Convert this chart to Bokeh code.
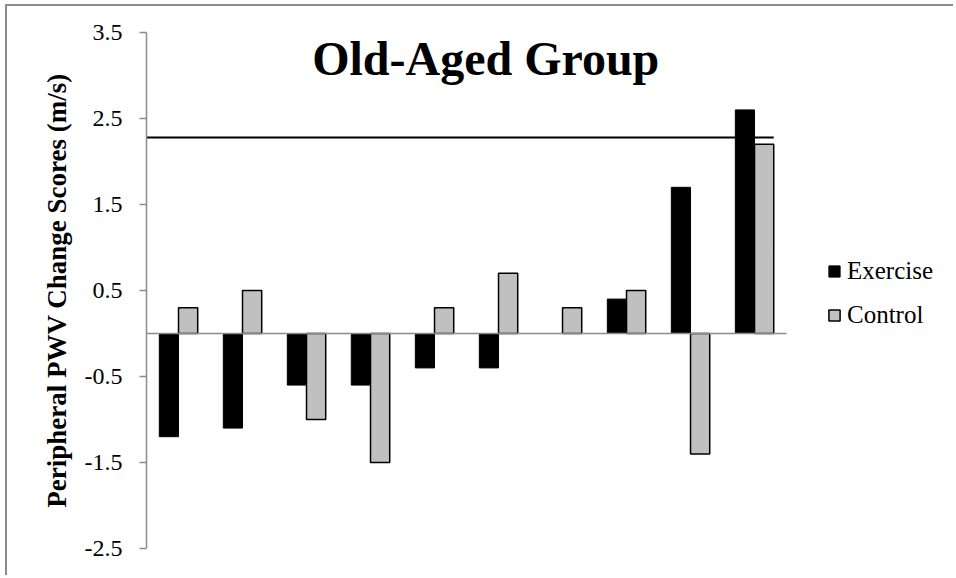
from bokeh.plotting import figure
from bokeh.models import Range1d, FixedTicker, Label, Legend, LegendItem
from bokeh.embed import file_html
from bokeh.resources import INLINE
import numpy as np

# ---- data ----
subjects = list(range(1, 11))
exercise = [-1.2, -1.1, -0.6, -0.6, -0.4, -0.4, 0.0, 0.4, 1.7, 2.6]
control = [0.3, 0.5, -1.0, -1.5, 0.3, 0.7, 0.3, 0.5, -1.4, 2.2]
y_ticks = [-2.5, -1.5, -0.5, 0.5, 1.5, 2.5, 3.5]
y_tick_labels = ["-2.5", "-1.5", "-0.5", "0.5", "1.5", "2.5", "3.5"]
threshold_value = 2.28
title_text = "Old-Aged Group"
y_label = "Peripheral PWV Change Scores (m/s)"

FONT = "'Liberation Serif'"
n = len(subjects)
centers = np.arange(n) + 0.5
bar_w = 0.3

p = figure(width=948, height=571, output_backend="svg", toolbar_location=None,
           x_range=Range1d(0, 12.64), y_range=Range1d(-2.5, 3.5),
           min_border_left=139, min_border_right=0, min_border_top=26, min_border_bottom=29,
           x_axis_type=None)
p.styles = {"border-top": "2px solid #8c8c8c", "border-left": "2px solid #8c8c8c",
            "margin-left": "5px", "margin-top": "4px"}
p.outline_line_color = None
p.xgrid.visible = False
p.ygrid.visible = False
p.background_fill_color = "white"
p.border_fill_color = "white"

r_ex = p.vbar(x=centers - bar_w / 2, top=exercise, bottom=0, width=bar_w,
              fill_color="black", line_color="black", line_width=1)
r_ct = p.vbar(x=centers + bar_w / 2, top=control, bottom=0, width=bar_w,
              fill_color="#c0c0c0", line_color="black", line_width=1.5)

# zero (category axis) line
p.line(x=[0, n], y=[0, 0], line_color="#8c8c8c", line_width=1.5)
# threshold line
p.line(x=[0, centers[-1] + bar_w], y=[threshold_value, threshold_value],
       line_color="black", line_width=2)

yaxis = p.yaxis[0]
yaxis.ticker = FixedTicker(ticks=y_ticks)
yaxis.major_label_overrides = dict(zip(y_ticks, y_tick_labels))
yaxis.axis_line_color = "#8c8c8c"
yaxis.axis_line_width = 1.5
yaxis.major_tick_line_color = "#8c8c8c"
yaxis.major_tick_line_width = 1.5
yaxis.major_tick_in = 0
yaxis.major_tick_out = 7
yaxis.minor_tick_line_color = None
yaxis.major_label_text_font = FONT
yaxis.major_label_text_font_size = "24px"
yaxis.major_label_text_color = "black"
yaxis.major_label_standoff = 17
yaxis.axis_label = y_label
yaxis.axis_label_text_font = FONT
yaxis.axis_label_text_font_style = "bold"
yaxis.axis_label_text_font_size = "27px"
yaxis.axis_label_text_color = "black"
yaxis.axis_label_standoff = 10

title = Label(x=n / 2 + 0.3, y=3.2, text=title_text, text_align="center",
              text_baseline="alphabetic", text_font=FONT, text_font_style="bold",
              text_font_size="48px", text_color="black")
p.add_layout(title)

legend = Legend(items=[LegendItem(label="Exercise", renderers=[r_ex]),
                       LegendItem(label="Control", renderers=[r_ct])],
                location=(681, 218))
legend.border_line_color = None
legend.background_fill_alpha = 0
legend.padding = 0
legend.margin = 0
legend.glyph_width = 14
legend.glyph_height = 14
legend.label_standoff = 6
legend.label_height = 30
legend.spacing = 14
legend.label_text_font = FONT
legend.label_text_font_size = "25px"
legend.label_text_color = "black"
p.add_layout(legend)

open("out.html", "w").write(file_html(p, INLINE))
